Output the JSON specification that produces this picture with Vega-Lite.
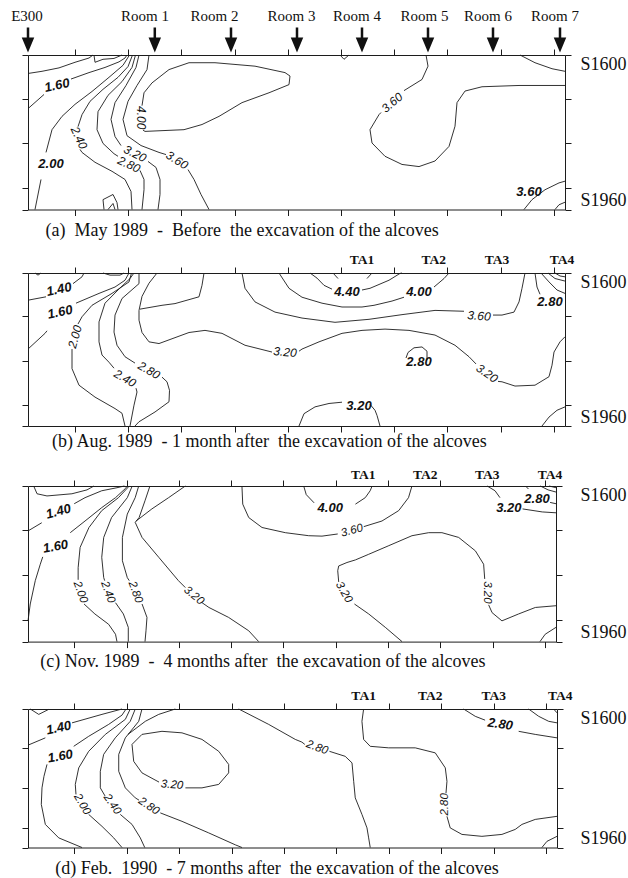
{
  "$schema": "https://vega.github.io/schema/vega-lite/v6.json",
  "background": "white",
  "padding": {"left": 10, "top": 8, "right": 0, "bottom": 0},
  "config": {
    "view": {"stroke": null},
    "axis": {"domain": false, "grid": false, "labels": false, "tickColor": "#1c1c1c", "tickSize": 6, "tickWidth": 1}
  },
  "datasets": {
    "contours": [
      {"p":"a","c":"a1","x":[0,14,31,47,61,65],"y":[1643,1638,1630,1617,1607,1600]},
      {"p":"a","c":"a1n","x":[66,67,75,86,94],"y":[1600,1617,1610,1608,1600]},
      {"p":"a","c":"a2s1","x":[0,16],"y":[1725,1692]},
      {"p":"a","c":"a2s2","x":[43,61,77,91,97,99],"y":[1656,1641,1629,1616,1607,1600]},
      {"p":"a","c":"a3s1","x":[7,13],"y":[1960,1890]},
      {"p":"a","c":"a3s2","x":[18,24,34,47,64,81,95,101.5],"y":[1827,1774,1743,1715,1685,1652,1624,1600]},
      {"p":"a","c":"a4s1","x":[104.5,100,90,75,62,54,50],"y":[1600,1627,1652,1680,1708,1739,1767]},
      {"p":"a","c":"a4s2","x":[52,54,67,84,97,103,104],"y":[1820,1827,1850,1871,1890,1918,1960]},
      {"p":"a","c":"a5s1","x":[107.5,104,94,80,70,69,75,86,90],"y":[1600,1629,1662,1694,1732,1774,1806,1830,1836]},
      {"p":"a","c":"a5s2","x":[112,116,116,114],"y":[1869,1890,1914,1960]},
      {"p":"a","c":"a6s1","x":[111,108,98,87,83,87,93],"y":[1600,1629,1671,1711,1750,1790,1811]},
      {"p":"a","c":"a6s2","x":[120,128,132,132,130],"y":[1848,1862,1890,1925,1960]},
      {"p":"a","c":"a7s1","x":[121,119,109,100,95,99,113,131,138],"y":[1600,1634,1671,1708,1750,1788,1811,1827,1832]},
      {"p":"a","c":"a7s2","x":[160,166,173,181],"y":[1867,1890,1925,1960]},
      {"p":"a","c":"a8","x":[115,117,156,174,191,214,241,261,262,257,227,187,161,141,124,116,114],"y":[1775,1778,1774,1762,1743,1711,1688,1669,1649,1641,1626,1618,1618,1634,1665,1688,1718]},
      {"p":"a","c":"a9","x":[76,75,85,89,90],"y":[1960,1937,1925,1944,1960]},
      {"p":"a","c":"a9i","x":[80,85,87],"y":[1960,1946,1960]},
      {"p":"a","c":"a10","x":[312,316,321],"y":[1600,1610,1600]},
      {"p":"a","c":"a11s1","x":[398,400,394,376],"y":[1600,1626,1657,1683]},
      {"p":"a","c":"a11s2","x":[353,351,342,344,357,374,391,407,421,427,429,437,454,491,537],"y":[1734,1739,1774,1805,1836,1855,1860,1847,1813,1766,1711,1684,1674,1671,1671]},
      {"p":"a","c":"a12","x":[492,507,524,537],"y":[1600,1618,1632,1638]},
      {"p":"a","c":"a13","x":[496,504,517,531,537],"y":[1960,1937,1914,1898,1894]},
      {"p":"a","c":"a14","x":[527,531,537],"y":[1960,1949,1943]},

      {"p":"b","c":"b1","x":[7,10,13],"y":[1600,1605,1600]},
      {"p":"b","c":"b2","x":[75,82,92,96],"y":[1600,1605,1605,1600]},
      {"p":"b","c":"b3s1","x":[0,18],"y":[1664,1656]},
      {"p":"b","c":"b3s2","x":[45,54,56],"y":[1625,1609,1600]},
      {"p":"b","c":"b4s1","x":[0,17,19],"y":[1779,1742,1736]},
      {"p":"b","c":"b4s2","x":[48,51,71,87,97,101],"y":[1671,1668,1648,1633,1617,1600]},
      {"p":"b","c":"b5s1","x":[103.5,101,84,64,54,50],"y":[1600,1621,1648,1676,1703,1720]},
      {"p":"b","c":"b5s2","x":[44,44,51,67,87,94,97],"y":[1779,1825,1864,1892,1919,1930,1960]},
      {"p":"b","c":"b6s1","x":[106,102,90,77,71,71,74,81,86],"y":[1600,1613,1640,1671,1715,1762,1793,1810,1824]},
      {"p":"b","c":"b6s2","x":[108,109,106,102],"y":[1871,1880,1911,1960]},
      {"p":"b","c":"b7s1","x":[111,111,94,87,86,89,97,107],"y":[1600,1625,1660,1699,1739,1770,1797,1812]},
      {"p":"b","c":"b7s2","x":[134,139,141.5,141,127,111,107],"y":[1845,1856,1876,1903,1927,1950,1960]},
      {"p":"b","c":"b8s1","x":[129,121,114,111,111,114,121,131,161,177,194,217,244],"y":[1600,1624,1655,1688,1711,1740,1762,1766,1740,1735,1742,1770,1786]},
      {"p":"b","c":"b8s2","x":[271,274,291,314,334,357,381,407,427,441,448],"y":[1784,1779,1762,1742,1735,1732,1735,1746,1770,1797,1814]},
      {"p":"b","c":"b8s3","x":[470,474,487,507,521,524,526,532,537],"y":[1855,1856,1866,1864,1844,1817,1786,1762,1750]},
      {"p":"b","c":"b9","x":[112,134,147,171,174,176],"y":[1685,1676,1672,1656,1629,1600]},
      {"p":"b","c":"b10s1","x":[214,217,227,247,274,307,341,374,407,436],"y":[1600,1636,1668,1692,1706,1716,1709,1698,1688,1690]},
      {"p":"b","c":"b10s2","x":[465,474,486,491,494,497],"y":[1699,1699,1692,1668,1636,1600]},
      {"p":"b","c":"b11s1","x":[251,261,274,294,314,334,346,364,376],"y":[1600,1636,1657,1671,1680,1680,1676,1666,1657]},
      {"p":"b","c":"b11s2","x":[406,416,421],"y":[1633,1613,1600]},
      {"p":"b","c":"b12s1","x":[282,289,296,304],"y":[1600,1612,1629,1638]},
      {"p":"b","c":"b12s2","x":[334,342,361,372,374],"y":[1640,1636,1617,1601,1600]},
      {"p":"b","c":"b13a","x":[305,310],"y":[1600,1613]},
      {"p":"b","c":"b13b","x":[339,344],"y":[1613,1600]},
      {"p":"b","c":"b14","x":[399,399,394,386,380,378],"y":[1805,1784,1774,1776,1787,1800]},
      {"p":"b","c":"b15","x":[507,509,512],"y":[1600,1633,1650]},
      {"p":"b","c":"b16","x":[513,521,529,537],"y":[1600,1621,1640,1648]},
      {"p":"b","c":"b17","x":[520,527,537],"y":[1600,1613,1619]},
      {"p":"b","c":"b18","x":[527,532,537],"y":[1600,1607,1609]},
      {"p":"b","c":"b19s1","x":[271,276,287,301,314],"y":[1960,1931,1915,1907,1904]},
      {"p":"b","c":"b19s2","x":[342,347,349,352],"y":[1909,1923,1935,1960]},
      {"p":"b","c":"b20","x":[514,521,529,537],"y":[1960,1939,1923,1915]},

      {"p":"c","c":"c1","x":[5.8,9.2,19.3,44.7,60,67.1],"y":[1600,1618,1623,1618,1609,1600]},
      {"p":"c","c":"c2s1","x":[0,14],"y":[1704,1685]},
      {"p":"c","c":"c2s2","x":[47,58,75,90.5,98],"y":[1641,1627,1611,1604,1600]},
      {"p":"c","c":"c3s1","x":[0,2.3,7.4,12.5,15],"y":[1912,1873,1819,1781,1764]},
      {"p":"c","c":"c3s2","x":[43,58,75,89,99,101],"y":[1708,1681,1650,1627,1606,1600]},
      {"p":"c","c":"c4s1","x":[103,92,75,62,53,51,51],"y":[1600,1627,1657,1696,1742,1789,1817]},
      {"p":"c","c":"c4s2","x":[57,68,82,89,90.5],"y":[1873,1896,1920,1943,1960]},
      {"p":"c","c":"c5s1","x":[106,101,85,77,75,77,78],"y":[1600,1627,1673,1719,1765,1812,1819]},
      {"p":"c","c":"c5s2","x":[89,97,102,102],"y":[1870,1896,1927,1960]},
      {"p":"c","c":"c6s1","x":[112.6,109,101,96,96,101,103],"y":[1600,1627,1665,1719,1773,1812,1819]},
      {"p":"c","c":"c6s2","x":[116,121,120,119],"y":[1873,1904,1935,1960]},
      {"p":"c","c":"c7s1","x":[124,119,113,109,116,133,153,160],"y":[1600,1634,1673,1684,1719,1765,1819,1835]},
      {"p":"c","c":"c7s2","x":[177,184,204,224.5,234.6],"y":[1870,1881,1904,1935,1960]},
      {"p":"c","c":"c8","x":[110,126,143,160],"y":[1681,1653,1627,1600]},
      {"p":"c","c":"c9s1","x":[217.6,218.4,224.5,238,261.7,285.5,299,315],"y":[1600,1642,1673,1696,1708,1715,1716,1711]},
      {"p":"c","c":"c9s2","x":[341.5,360,377,387,390.5],"y":[1694,1681,1657,1627,1600]},
      {"p":"c","c":"c10s1","x":[280.4,283,291],"y":[1600,1620,1639]},
      {"p":"c","c":"c10s2","x":[333,343,348,350],"y":[1642,1627,1611,1600]},
      {"p":"c","c":"c11s1","x":[380.4,363.4,346.5,332],"y":[1960,1927,1896,1873]},
      {"p":"c","c":"c11s2","x":[316,315,316,324.4,333,346.5,367,390.5,407.5,421,438,455,463.4,464.5],"y":[1822,1796,1785,1777,1771,1758,1738,1715,1708,1708,1719,1750,1781,1815]},
      {"p":"c","c":"c11s3","x":[468.5,472,482,499,516,537],"y":[1875,1893,1912,1896,1881,1877]},
      {"p":"c","c":"c12s1","x":[467,475,480],"y":[1600,1611,1627]},
      {"p":"c","c":"c12s2","x":[503,523,537],"y":[1653,1660,1662]},
      {"p":"c","c":"c13s1","x":[506,509],"y":[1600,1607]},
      {"p":"c","c":"c13s2","x":[531,537],"y":[1638,1641]},
      {"p":"c","c":"c14","x":[521,529,537],"y":[1600,1609,1614]},
      {"p":"c","c":"c15","x":[530,537],"y":[1600,1604]},
      {"p":"c","c":"c16","x":[520.7,526,537],"y":[1960,1943,1927]},

      {"p":"d","c":"d1","x":[2.3,10.9,21],"y":[1600,1614,1601]},
      {"p":"d","c":"d2s1","x":[0,17.6],"y":[1694,1675]},
      {"p":"d","c":"d2s2","x":[44.7,75.1,95.4],"y":[1636,1614,1600]},
      {"p":"d","c":"d3s1","x":[54.8,31.2,17.6,13.5,14.2,16.2,19.3],"y":[1960,1935,1900,1848,1805,1775,1744]},
      {"p":"d","c":"d3s2","x":[46.4,61.6,81.9,95.4,99.5],"y":[1697,1671,1640,1616,1600]},
      {"p":"d","c":"d4s1","x":[103.8,98.8,78.5,61.6,51.5,48,48.7],"y":[1600,1627,1666,1710,1753,1796,1822]},
      {"p":"d","c":"d4s2","x":[61.6,75.1,87,95.4],"y":[1874,1905,1935,1960]},
      {"p":"d","c":"d5s1","x":[108.9,103.8,88.6,76.8,73.4,73.4,78.2],"y":[1600,1632,1675,1718,1762,1805,1826]},
      {"p":"d","c":"d5s2","x":[93.7,105.6,114,118.5],"y":[1874,1900,1935,1960]},
      {"p":"d","c":"d6s1","x":[115.7,112.4,98.8,92.1,92.1,98.8,108.9,112.7],"y":[1600,1632,1675,1718,1762,1805,1831,1837]},
      {"p":"d","c":"d6s2","x":[134.3,156.3,183.4,210.4,217.2],"y":[1870,1892,1922,1953,1960]},
      {"p":"d","c":"d7","x":[101.5,119.1,132.7,149.5],"y":[1666,1632,1614,1600]},
      {"p":"d","c":"d8s1","x":[105.6,115.7,136,156.3,176.6,193.6,203.7,203.7,193.6,176.6,159.8],"y":[1692,1666,1658,1662,1679,1710,1744,1766,1796,1805,1805]},
      {"p":"d","c":"d8s2","x":[133,115.7,107.3,105.6],"y":[1790,1766,1736,1692]},
      {"p":"d","c":"d9s1","x":[213.9,244.3,271.3,278,281],"y":[1600,1640,1679,1686,1692]},
      {"p":"d","c":"d9s2","x":[306,322,328.9,330.6,332.2,339,344.1,345.8,347.4],"y":[1710,1723,1740,1788,1831,1874,1909,1935,1960]},
      {"p":"d","c":"d10s1","x":[340.7,339,340.7,347.4,366.1,393.1,413.4,423.6,425.3,424.3],"y":[1600,1632,1679,1697,1701,1701,1714,1753,1788,1819]},
      {"p":"d","c":"d10s2","x":[425.3,428.6,440.5,460.8,481.1,494.6,501.4,514.9,537],"y":[1879,1909,1926,1931,1926,1913,1900,1887,1879]},
      {"p":"d","c":"d11s1","x":[442.2,454,464],"y":[1600,1619,1629]},
      {"p":"d","c":"d11s2","x":[498.1,514.9,537],"y":[1658,1666,1675]},
      {"p":"d","c":"d12","x":[508.2,518.4,528.5,537],"y":[1600,1619,1632,1636]},
      {"p":"d","c":"d13","x":[533.6,537],"y":[1600,1610]},
      {"p":"d","c":"d14","x":[521.7,526.8,537],"y":[1960,1944,1931]}
    ],
    "labels": [
      {"p":"a","t":"1.60","x":29,"y":1671,"a":-12,"w":"b"},
      {"p":"a","t":"2.00","x":23,"y":1853,"a":0,"w":"b"},
      {"p":"a","t":"2.40","x":51,"y":1793,"a":65,"w":"n"},
      {"p":"a","t":"3.20","x":107,"y":1830,"a":27,"w":"n"},
      {"p":"a","t":"2.80","x":101,"y":1855,"a":25,"w":"n"},
      {"p":"a","t":"3.60","x":149,"y":1845,"a":32,"w":"n"},
      {"p":"a","t":"4.00","x":113,"y":1746,"a":90,"w":"n"},
      {"p":"a","t":"3.60","x":364,"y":1711,"a":-40,"w":"n"},
      {"p":"a","t":"3.60","x":501,"y":1920,"a":0,"w":"b"},

      {"p":"b","t":"1.40","x":31,"y":1639,"a":-12,"w":"b"},
      {"p":"b","t":"1.60","x":32,"y":1692,"a":-12,"w":"b"},
      {"p":"b","t":"2.00","x":47,"y":1750,"a":-75,"w":"n"},
      {"p":"b","t":"2.40","x":97,"y":1848,"a":30,"w":"n"},
      {"p":"b","t":"2.80","x":121,"y":1829,"a":30,"w":"n"},
      {"p":"b","t":"3.20","x":257,"y":1786,"a":5,"w":"n"},
      {"p":"b","t":"4.40","x":319,"y":1644,"a":0,"w":"b"},
      {"p":"b","t":"4.00","x":391,"y":1644,"a":0,"w":"b"},
      {"p":"b","t":"3.60","x":451,"y":1701,"a":5,"w":"n"},
      {"p":"b","t":"2.80","x":522,"y":1669,"a":0,"w":"b"},
      {"p":"b","t":"2.80","x":391,"y":1809,"a":0,"w":"b"},
      {"p":"b","t":"3.20","x":459,"y":1836,"a":35,"w":"n"},
      {"p":"b","t":"3.20","x":331,"y":1913,"a":0,"w":"b"},

      {"p":"c","t":"1.40","x":31,"y":1659,"a":-15,"w":"b"},
      {"p":"c","t":"1.60","x":28,"y":1740,"a":-10,"w":"b"},
      {"p":"c","t":"2.00","x":53,"y":1846,"a":70,"w":"n"},
      {"p":"c","t":"2.40","x":81,"y":1846,"a":70,"w":"n"},
      {"p":"c","t":"2.80","x":109,"y":1846,"a":70,"w":"n"},
      {"p":"c","t":"3.20","x":168.5,"y":1854,"a":40,"w":"n"},
      {"p":"c","t":"4.00","x":307.4,"y":1651,"a":0,"w":"b"},
      {"p":"c","t":"3.60","x":329.5,"y":1704,"a":-15,"w":"n"},
      {"p":"c","t":"3.20","x":321,"y":1846,"a":60,"w":"n"},
      {"p":"c","t":"3.20","x":467,"y":1846,"a":90,"w":"n"},
      {"p":"c","t":"3.20","x":489,"y":1650,"a":0,"w":"b"},
      {"p":"c","t":"2.80","x":517.7,"y":1630,"a":0,"w":"b"},

      {"p":"d","t":"1.40","x":31.2,"y":1649,"a":-12,"w":"b"},
      {"p":"d","t":"1.60","x":32.8,"y":1723,"a":-10,"w":"b"},
      {"p":"d","t":"2.00","x":54.8,"y":1848,"a":60,"w":"n"},
      {"p":"d","t":"2.40","x":85.3,"y":1848,"a":55,"w":"n"},
      {"p":"d","t":"2.80","x":122.5,"y":1853,"a":35,"w":"n"},
      {"p":"d","t":"3.20","x":146.2,"y":1798,"a":5,"w":"n"},
      {"p":"d","t":"2.80","x":293.3,"y":1701,"a":20,"w":"n"},
      {"p":"d","t":"2.80","x":423.6,"y":1848,"a":-90,"w":"n"},
      {"p":"d","t":"2.80","x":479.4,"y":1640,"a":8,"w":"b"}
    ],
    "stations": [
      {"p":"a","t":"E300","x":-1,"y":1508,"ax":0,"ay":1565},
      {"p":"a","t":"Room 1","x":117,"y":1508,"ax":126.8,"ay":1565},
      {"p":"a","t":"Room 2","x":186.5,"y":1508,"ax":203,"ay":1565},
      {"p":"a","t":"Room 3","x":263.5,"y":1508,"ax":269,"ay":1565},
      {"p":"a","t":"Room 4","x":329,"y":1508,"ax":334,"ay":1565},
      {"p":"a","t":"Room 5","x":396.5,"y":1508,"ax":400,"ay":1565},
      {"p":"a","t":"Room 6","x":460,"y":1508,"ax":465,"ay":1565},
      {"p":"a","t":"Room 7","x":527,"y":1508,"ax":532,"ay":1565}
    ],
    "alcoves": [
      {"p":"b","t":"TA1","x":334,"y":1570},
      {"p":"b","t":"TA2","x":405.7,"y":1570},
      {"p":"b","t":"TA3","x":469,"y":1570},
      {"p":"b","t":"TA4","x":534,"y":1570},
      {"p":"c","t":"TA1","x":341,"y":1574},
      {"p":"c","t":"TA2","x":404,"y":1574},
      {"p":"c","t":"TA3","x":467,"y":1574},
      {"p":"c","t":"TA4","x":531,"y":1574},
      {"p":"d","t":"TA1","x":340.7,"y":1567},
      {"p":"d","t":"TA2","x":408.3,"y":1567},
      {"p":"d","t":"TA3","x":472.7,"y":1567},
      {"p":"d","t":"TA4","x":540.3,"y":1567}
    ],
    "captions": [
      {"p":"a","t":"(a)\u00a0 May 1989\u00a0 -\u00a0 Before\u00a0 the excavation of the alcoves","x":17.5,"y":2009},
      {"p":"b","t":"(b) Aug. 1989\u00a0 - 1 month after\u00a0 the excavation of the alcoves","x":24,"y":1998},
      {"p":"c","t":"(c) Nov. 1989\u00a0 -\u00a0 4 months after\u00a0 the excavation of the alcoves","x":12.5,"y":2007},
      {"p":"d","t":"(d) Feb.\u00a0 1990\u00a0 - 7 months after\u00a0 the excavation of the alcoves","x":27.7,"y":2016}
    ]
  },
  "bounds": "flush",
  "spacing": 0,
  "vconcat": [
    {
      "width": 537, "height": 154.5,
      "view": {"stroke": "#1c1c1c", "strokeWidth": 1},
      "resolve": {"axis": {"x": "independent", "y": "independent"}},
      "layer": [
        {
          "data": {"name": "contours"},
          "transform": [{"filter": "datum.p === 'a'"}, {"flatten": ["x", "y"]}, {"window": [{"op": "row_number", "as": "i"}], "groupby": ["c"]}],
          "mark": {"type": "line", "color": "#1c1c1c", "strokeWidth": 0.9, "strokeJoin": "round"},
          "encoding": {
            "x": {"field": "x", "type": "quantitative", "scale": {"domain": [0, 537], "nice": false, "zero": false}, "axis": {"orient": "bottom", "values": [47,100.2,153.4,206.6,259.8,313,366.2,419.4,472.6,525.8], "title": null}},
            "y": {"field": "y", "type": "quantitative", "scale": {"domain": [1600, 1960], "reverse": true, "nice": false, "zero": false}, "axis": {"orient": "left", "values": [1600,1702,1806,1910,1960], "title": null}},
            "detail": {"field": "c", "type": "nominal"},
            "order": {"field": "i", "type": "quantitative"}
          }
        },
        {
          "data": {"name": "labels"},
          "transform": [{"filter": "datum.p === 'a' && datum.w === 'b'"}],
          "mark": {"type": "text", "font": "Liberation Sans", "fontSize": 13, "fontStyle": "italic", "fontWeight": "bold", "color": "#111"},
          "encoding": {
            "x": {"field": "x", "type": "quantitative", "scale": {"domain": [0, 537], "nice": false, "zero": false}, "axis": {"orient": "top", "values": [47,100.2,153.4,206.6,259.8,313,366.2,419.4,472.6,525.8], "title": null}},
            "y": {"field": "y", "type": "quantitative", "scale": {"domain": [1600, 1960], "reverse": true, "nice": false, "zero": false}, "axis": {"orient": "right", "values": [1600,1702,1806,1910,1960], "title": null, "labels": true, "labelExpr": "datum.value == 1600 ? 'S1600' : datum.value == 1960 ? 'S1960' : ''", "labelFont": "Liberation Serif", "labelFontSize": 18, "labelColor": "#111", "labelPadding": 9, "labelFlush": true, "labelAlign": "left", "labelOverlap": false}},
            "text": {"field": "t"},
            "angle": {"field": "a", "type": "quantitative", "scale": null}
          }
        },
        {
          "data": {"name": "labels"},
          "transform": [{"filter": "datum.p === 'a' && datum.w === 'n'"}],
          "mark": {"type": "text", "font": "Liberation Sans", "fontSize": 12, "fontStyle": "italic", "color": "#111"},
          "encoding": {
            "x": {"field": "x", "type": "quantitative", "scale": {"domain": [0, 537], "nice": false, "zero": false}, "axis": null},
            "y": {"field": "y", "type": "quantitative", "scale": {"domain": [1600, 1960], "reverse": true, "nice": false, "zero": false}, "axis": null},
            "text": {"field": "t"},
            "angle": {"field": "a", "type": "quantitative", "scale": null}
          }
        },
        {
          "data": {"name": "stations"},
          "mark": {"type": "text", "font": "Liberation Serif", "fontSize": 15, "color": "#111"},
          "encoding": {
            "x": {"field": "x", "type": "quantitative", "scale": {"domain": [0, 537], "nice": false, "zero": false}, "axis": null},
            "y": {"field": "y", "type": "quantitative", "scale": {"domain": [1600, 1960], "reverse": true, "nice": false, "zero": false}, "axis": null},
            "text": {"field": "t"}
          }
        },
        {
          "data": {"name": "stations"},
          "mark": {"type": "point", "shape": "M-0.1,-1L0.1,-1L0.1,-0.2L0.5,-0.2L0,1L-0.5,-0.2L-0.1,-0.2Z", "size": 625, "filled": true, "color": "#111", "opacity": 1},
          "encoding": {
            "x": {"field": "ax", "type": "quantitative", "scale": {"domain": [0, 537], "nice": false, "zero": false}, "axis": null},
            "y": {"field": "ay", "type": "quantitative", "scale": {"domain": [1600, 1960], "reverse": true, "nice": false, "zero": false}, "axis": null}
          }
        },
        {
          "data": {"name": "captions"},
          "transform": [{"filter": "datum.p === 'a'"}],
          "mark": {"type": "text", "font": "Liberation Serif", "fontSize": 18, "align": "left", "color": "#111"},
          "encoding": {
            "x": {"field": "x", "type": "quantitative", "scale": {"domain": [0, 537], "nice": false, "zero": false}, "axis": null},
            "y": {"field": "y", "type": "quantitative", "scale": {"domain": [1600, 1960], "reverse": true, "nice": false, "zero": false}, "axis": null},
            "text": {"field": "t"}
          }
        }
      ]
    },
    {"width": 10, "height": 62.8, "data": {"values": [{"v": 0}]}, "mark": {"type": "point", "opacity": 0}},
    {
      "width": 537, "height": 153,
      "view": {"stroke": "#1c1c1c", "strokeWidth": 1},
      "resolve": {"axis": {"x": "independent", "y": "independent"}},
      "layer": [
        {
          "data": {"name": "contours"},
          "transform": [{"filter": "datum.p === 'b'"}, {"flatten": ["x", "y"]}, {"window": [{"op": "row_number", "as": "i"}], "groupby": ["c"]}],
          "mark": {"type": "line", "color": "#1c1c1c", "strokeWidth": 0.9, "strokeJoin": "round"},
          "encoding": {
            "x": {"field": "x", "type": "quantitative", "scale": {"domain": [0, 537], "nice": false, "zero": false}, "axis": {"orient": "bottom", "values": [47,100.2,153.4,206.6,259.8,313,366.2,419.4,472.6,525.8], "title": null}},
            "y": {"field": "y", "type": "quantitative", "scale": {"domain": [1600, 1960], "reverse": true, "nice": false, "zero": false}, "axis": {"orient": "left", "values": [1600,1702,1806,1910,1960], "title": null}},
            "detail": {"field": "c", "type": "nominal"},
            "order": {"field": "i", "type": "quantitative"}
          }
        },
        {
          "data": {"name": "labels"},
          "transform": [{"filter": "datum.p === 'b' && datum.w === 'b'"}],
          "mark": {"type": "text", "font": "Liberation Sans", "fontSize": 13, "fontStyle": "italic", "fontWeight": "bold", "color": "#111"},
          "encoding": {
            "x": {"field": "x", "type": "quantitative", "scale": {"domain": [0, 537], "nice": false, "zero": false}, "axis": {"orient": "top", "values": [47,100.2,153.4,206.6,259.8,313,366.2,419.4,472.6,525.8], "title": null}},
            "y": {"field": "y", "type": "quantitative", "scale": {"domain": [1600, 1960], "reverse": true, "nice": false, "zero": false}, "axis": {"orient": "right", "values": [1600,1702,1806,1910,1960], "title": null, "labels": true, "labelExpr": "datum.value == 1600 ? 'S1600' : datum.value == 1960 ? 'S1960' : ''", "labelFont": "Liberation Serif", "labelFontSize": 18, "labelColor": "#111", "labelPadding": 9, "labelFlush": true, "labelAlign": "left", "labelOverlap": false}},
            "text": {"field": "t"},
            "angle": {"field": "a", "type": "quantitative", "scale": null}
          }
        },
        {
          "data": {"name": "labels"},
          "transform": [{"filter": "datum.p === 'b' && datum.w === 'n'"}],
          "mark": {"type": "text", "font": "Liberation Sans", "fontSize": 12, "fontStyle": "italic", "color": "#111"},
          "encoding": {
            "x": {"field": "x", "type": "quantitative", "scale": {"domain": [0, 537], "nice": false, "zero": false}, "axis": null},
            "y": {"field": "y", "type": "quantitative", "scale": {"domain": [1600, 1960], "reverse": true, "nice": false, "zero": false}, "axis": null},
            "text": {"field": "t"},
            "angle": {"field": "a", "type": "quantitative", "scale": null}
          }
        },
        {
          "data": {"name": "alcoves"},
          "transform": [{"filter": "datum.p === 'b'"}],
          "mark": {"type": "text", "font": "Liberation Serif", "fontSize": 13.5, "fontWeight": "bold", "color": "#111"},
          "encoding": {
            "x": {"field": "x", "type": "quantitative", "scale": {"domain": [0, 537], "nice": false, "zero": false}, "axis": null},
            "y": {"field": "y", "type": "quantitative", "scale": {"domain": [1600, 1960], "reverse": true, "nice": false, "zero": false}, "axis": null},
            "text": {"field": "t"}
          }
        },
        {
          "data": {"name": "captions"},
          "transform": [{"filter": "datum.p === 'b'"}],
          "mark": {"type": "text", "font": "Liberation Serif", "fontSize": 18, "align": "left", "color": "#111"},
          "encoding": {
            "x": {"field": "x", "type": "quantitative", "scale": {"domain": [0, 537], "nice": false, "zero": false}, "axis": null},
            "y": {"field": "y", "type": "quantitative", "scale": {"domain": [1600, 1960], "reverse": true, "nice": false, "zero": false}, "axis": null},
            "text": {"field": "t"}
          }
        }
      ]
    },
    {"width": 10, "height": 59.4, "data": {"values": [{"v": 0}]}, "mark": {"type": "point", "opacity": 0}},
    {
      "width": 528, "height": 155.6,
      "view": {"stroke": "#1c1c1c", "strokeWidth": 1},
      "resolve": {"axis": {"x": "independent", "y": "independent"}},
      "layer": [
        {
          "data": {"name": "contours"},
          "transform": [{"filter": "datum.p === 'c'"}, {"flatten": ["x", "y"]}, {"window": [{"op": "row_number", "as": "i"}], "groupby": ["c"]}],
          "mark": {"type": "line", "color": "#1c1c1c", "strokeWidth": 0.9, "strokeJoin": "round"},
          "encoding": {
            "x": {"field": "x", "type": "quantitative", "scale": {"domain": [0, 537], "nice": false, "zero": false}, "axis": {"orient": "bottom", "values": [47,100.2,153.4,206.6,259.8,313,366.2,419.4,472.6,525.8], "title": null}},
            "y": {"field": "y", "type": "quantitative", "scale": {"domain": [1600, 1960], "reverse": true, "nice": false, "zero": false}, "axis": {"orient": "left", "values": [1600,1702,1806,1910,1960], "title": null}},
            "detail": {"field": "c", "type": "nominal"},
            "order": {"field": "i", "type": "quantitative"}
          }
        },
        {
          "data": {"name": "labels"},
          "transform": [{"filter": "datum.p === 'c' && datum.w === 'b'"}],
          "mark": {"type": "text", "font": "Liberation Sans", "fontSize": 13, "fontStyle": "italic", "fontWeight": "bold", "color": "#111"},
          "encoding": {
            "x": {"field": "x", "type": "quantitative", "scale": {"domain": [0, 537], "nice": false, "zero": false}, "axis": {"orient": "top", "values": [47,100.2,153.4,206.6,259.8,313,366.2,419.4,472.6,525.8], "title": null}},
            "y": {"field": "y", "type": "quantitative", "scale": {"domain": [1600, 1960], "reverse": true, "nice": false, "zero": false}, "axis": {"orient": "right", "values": [1600,1702,1806,1910,1960], "title": null, "labels": true, "labelExpr": "datum.value == 1600 ? 'S1600' : datum.value == 1960 ? 'S1960' : ''", "labelFont": "Liberation Serif", "labelFontSize": 18, "labelColor": "#111", "labelPadding": 18, "labelFlush": true, "labelAlign": "left", "labelOverlap": false}},
            "text": {"field": "t"},
            "angle": {"field": "a", "type": "quantitative", "scale": null}
          }
        },
        {
          "data": {"name": "labels"},
          "transform": [{"filter": "datum.p === 'c' && datum.w === 'n'"}],
          "mark": {"type": "text", "font": "Liberation Sans", "fontSize": 11.5, "fontStyle": "italic", "color": "#111"},
          "encoding": {
            "x": {"field": "x", "type": "quantitative", "scale": {"domain": [0, 537], "nice": false, "zero": false}, "axis": null},
            "y": {"field": "y", "type": "quantitative", "scale": {"domain": [1600, 1960], "reverse": true, "nice": false, "zero": false}, "axis": null},
            "text": {"field": "t"},
            "angle": {"field": "a", "type": "quantitative", "scale": null}
          }
        },
        {
          "data": {"name": "alcoves"},
          "transform": [{"filter": "datum.p === 'c'"}],
          "mark": {"type": "text", "font": "Liberation Serif", "fontSize": 13.5, "fontWeight": "bold", "color": "#111"},
          "encoding": {
            "x": {"field": "x", "type": "quantitative", "scale": {"domain": [0, 537], "nice": false, "zero": false}, "axis": null},
            "y": {"field": "y", "type": "quantitative", "scale": {"domain": [1600, 1960], "reverse": true, "nice": false, "zero": false}, "axis": null},
            "text": {"field": "t"}
          }
        },
        {
          "data": {"name": "captions"},
          "transform": [{"filter": "datum.p === 'c'"}],
          "mark": {"type": "text", "font": "Liberation Serif", "fontSize": 18, "align": "left", "color": "#111"},
          "encoding": {
            "x": {"field": "x", "type": "quantitative", "scale": {"domain": [0, 537], "nice": false, "zero": false}, "axis": null},
            "y": {"field": "y", "type": "quantitative", "scale": {"domain": [1600, 1960], "reverse": true, "nice": false, "zero": false}, "axis": null},
            "text": {"field": "t"}
          }
        }
      ]
    },
    {"width": 10, "height": 67, "data": {"values": [{"v": 0}]}, "mark": {"type": "point", "opacity": 0}},
    {
      "width": 529, "height": 138.5,
      "view": {"stroke": "#1c1c1c", "strokeWidth": 1},
      "resolve": {"axis": {"x": "independent", "y": "independent"}},
      "layer": [
        {
          "data": {"name": "contours"},
          "transform": [{"filter": "datum.p === 'd'"}, {"flatten": ["x", "y"]}, {"window": [{"op": "row_number", "as": "i"}], "groupby": ["c"]}],
          "mark": {"type": "line", "color": "#1c1c1c", "strokeWidth": 0.9, "strokeJoin": "round"},
          "encoding": {
            "x": {"field": "x", "type": "quantitative", "scale": {"domain": [0, 537], "nice": false, "zero": false}, "axis": {"orient": "bottom", "values": [47,100.2,153.4,206.6,259.8,313,366.2,419.4,472.6,525.8], "title": null}},
            "y": {"field": "y", "type": "quantitative", "scale": {"domain": [1600, 1960], "reverse": true, "nice": false, "zero": false}, "axis": {"orient": "left", "values": [1600,1702,1806,1910,1960], "title": null}},
            "detail": {"field": "c", "type": "nominal"},
            "order": {"field": "i", "type": "quantitative"}
          }
        },
        {
          "data": {"name": "labels"},
          "transform": [{"filter": "datum.p === 'd' && datum.w === 'b'"}],
          "mark": {"type": "text", "font": "Liberation Sans", "fontSize": 13, "fontStyle": "italic", "fontWeight": "bold", "color": "#111"},
          "encoding": {
            "x": {"field": "x", "type": "quantitative", "scale": {"domain": [0, 537], "nice": false, "zero": false}, "axis": {"orient": "top", "values": [47,100.2,153.4,206.6,259.8,313,366.2,419.4,472.6,525.8], "title": null}},
            "y": {"field": "y", "type": "quantitative", "scale": {"domain": [1600, 1960], "reverse": true, "nice": false, "zero": false}, "axis": {"orient": "right", "values": [1600,1702,1806,1910,1960], "title": null, "labels": true, "labelExpr": "datum.value == 1600 ? 'S1600' : datum.value == 1960 ? 'S1960' : ''", "labelFont": "Liberation Serif", "labelFontSize": 18, "labelColor": "#111", "labelPadding": 17, "labelFlush": true, "labelAlign": "left", "labelOverlap": false}},
            "text": {"field": "t"},
            "angle": {"field": "a", "type": "quantitative", "scale": null}
          }
        },
        {
          "data": {"name": "labels"},
          "transform": [{"filter": "datum.p === 'd' && datum.w === 'n'"}],
          "mark": {"type": "text", "font": "Liberation Sans", "fontSize": 11.5, "fontStyle": "italic", "color": "#111"},
          "encoding": {
            "x": {"field": "x", "type": "quantitative", "scale": {"domain": [0, 537], "nice": false, "zero": false}, "axis": null},
            "y": {"field": "y", "type": "quantitative", "scale": {"domain": [1600, 1960], "reverse": true, "nice": false, "zero": false}, "axis": null},
            "text": {"field": "t"},
            "angle": {"field": "a", "type": "quantitative", "scale": null}
          }
        },
        {
          "data": {"name": "alcoves"},
          "transform": [{"filter": "datum.p === 'd'"}],
          "mark": {"type": "text", "font": "Liberation Serif", "fontSize": 13.5, "fontWeight": "bold", "color": "#111"},
          "encoding": {
            "x": {"field": "x", "type": "quantitative", "scale": {"domain": [0, 537], "nice": false, "zero": false}, "axis": null},
            "y": {"field": "y", "type": "quantitative", "scale": {"domain": [1600, 1960], "reverse": true, "nice": false, "zero": false}, "axis": null},
            "text": {"field": "t"}
          }
        },
        {
          "data": {"name": "captions"},
          "transform": [{"filter": "datum.p === 'd'"}],
          "mark": {"type": "text", "font": "Liberation Serif", "fontSize": 18, "align": "left", "color": "#111"},
          "encoding": {
            "x": {"field": "x", "type": "quantitative", "scale": {"domain": [0, 537], "nice": false, "zero": false}, "axis": null},
            "y": {"field": "y", "type": "quantitative", "scale": {"domain": [1600, 1960], "reverse": true, "nice": false, "zero": false}, "axis": null},
            "text": {"field": "t"}
          }
        }
      ]
    }
  ]
}
